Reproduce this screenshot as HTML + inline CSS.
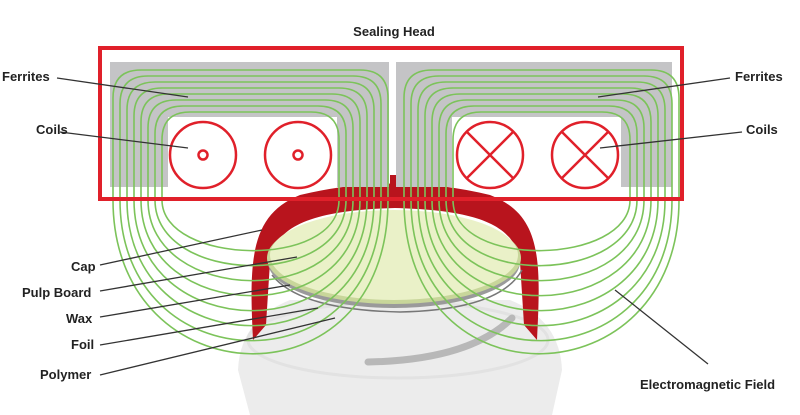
<!DOCTYPE html>
<html><head><style>
body{margin:0;background:#fff;}
svg{display:block}
text{font-family:"Liberation Sans",sans-serif;font-weight:bold;font-size:13px;fill:#222}
</style></head><body>
<svg width="800" height="415" viewBox="0 0 800 415" xmlns="http://www.w3.org/2000/svg">
<!-- bottle -->
<path d="M250 415 L238 370 Q240 320 290 300 L510 300 Q560 320 562 370 L552 415 Z" fill="#ececec"/>
<ellipse cx="398" cy="340" rx="150" ry="38" fill="none" stroke="#e2e2e2" stroke-width="3"/>
<path d="M368 362 Q470 360 512 318" fill="none" stroke="#b8b8b8" stroke-width="7" stroke-linecap="round"/>
<!-- cap -->
<path fill-rule="evenodd" fill="#b8141d" d="M253 340 C249 260 250 215 300 195 Q395 172 490 195 C542 215 541 260 537 340 L524 325 L520 262 C515 222 470 210 395 208 C322 210 275 222 270 262 L266 325 Z"/>
<rect x="390" y="175" width="10" height="20" fill="#b8141d"/>
<!-- disc layers -->
<ellipse cx="394" cy="262" rx="126" ry="46" fill="#9a9a9a"/>
<ellipse cx="394" cy="258" rx="127" ry="46" fill="#c8d69a"/>
<ellipse cx="394" cy="255" rx="124" ry="45" fill="#eaf1c8"/>
<path d="M272 275 Q300 310 400 312 Q500 310 522 270" fill="none" stroke="#777" stroke-width="1.5"/>
<!-- head interior -->
<path fill="#c4c4c6" d="M110 62 H389 V187 H337 V117 H168 V187 H110 Z"/>
<path fill="#c4c4c6" d="M396 62 H672 V187 H621 V117 H452 V187 H396 Z"/>
<!-- field lines -->
<g fill="none" stroke="#7cc35a" stroke-width="1.6" id="f">
<path d="M113 200 L113 98 Q113 70 141 70 L360 70 Q388 70 388 98 L388 200 C388 410 113 400 113 200"/>
<path d="M120 200 L120 104 Q120 76 148 76 L353 76 Q381 76 381 104 L381 200 C381 390 120 385 120 200"/>
<path d="M127 200 L127 110 Q127 82 155 82 L346 82 Q374 82 374 110 L374 200 C374 370 127 365 127 200"/>
<path d="M134 200 L134 116 Q134 88 162 88 L339 88 Q367 88 367 116 L367 200 C367 350 134 345 134 200"/>
<path d="M141 200 L141 122 Q141 94 169 94 L332 94 Q360 94 360 122 L360 200 C360 330 141 325 141 200"/>
<path d="M148 200 L148 128 Q148 100 176 100 L325 100 Q353 100 353 128 L353 200 C353 310 148 305 148 200"/>
<path d="M155 200 L155 134 Q155 106 183 106 L318 106 Q346 106 346 134 L346 200 C346 290 155 285 155 200"/>
<path d="M162 200 L162 140 Q162 112 190 112 L311 112 Q339 112 339 140 L339 200 C339 270 162 265 162 200"/>
</g>
<use href="#f" transform="translate(792 0) scale(-1 1)"/>
<!-- coils -->
<g fill="none" stroke="#e0202a" stroke-width="2.5">
<circle cx="203" cy="155" r="33"/><circle cx="203" cy="155" r="4.5"/>
<circle cx="298" cy="155" r="33"/><circle cx="298" cy="155" r="4.5"/>
<circle cx="490" cy="155" r="33"/><path d="M467 132 L513 178 M513 132 L467 178"/>
<circle cx="585" cy="155" r="33"/><path d="M562 132 L608 178 M608 132 L562 178"/>
</g>
<rect x="100" y="48" width="582" height="151" fill="none" stroke="#e0202a" stroke-width="4"/>
<!-- leaders -->
<g stroke="#333" stroke-width="1.3">
<line x1="57" y1="78" x2="188" y2="97"/><line x1="60" y1="132" x2="188" y2="148"/>
<line x1="730" y1="78" x2="598" y2="97"/><line x1="742" y1="132" x2="600" y2="148"/>
<line x1="100" y1="265" x2="262" y2="230"/><line x1="100" y1="291" x2="297" y2="257"/>
<line x1="100" y1="317" x2="290" y2="285"/><line x1="100" y1="345" x2="318" y2="308"/>
<line x1="100" y1="375" x2="335" y2="318"/><line x1="708" y1="364" x2="615" y2="290"/>
</g>
<text x="394" y="36" text-anchor="middle">Sealing Head</text>
<text x="2" y="81">Ferrites</text><text x="36" y="134">Coils</text>
<text x="735" y="81">Ferrites</text><text x="746" y="134">Coils</text>
<text x="71" y="271">Cap</text><text x="22" y="297">Pulp Board</text>
<text x="66" y="323">Wax</text><text x="71" y="349">Foil</text>
<text x="40" y="379">Polymer</text>
<text x="640" y="389">Electromagnetic Field</text>
</svg>
</body></html>
